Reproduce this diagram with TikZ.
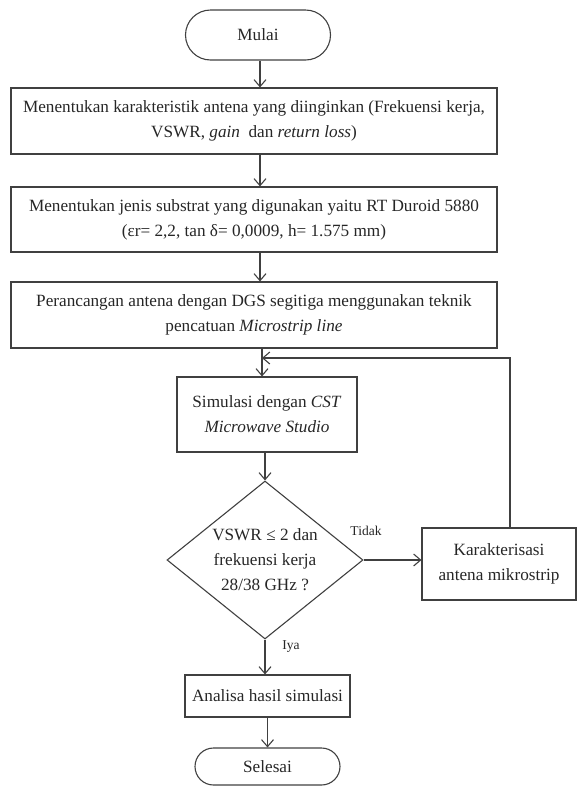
\documentclass[tikz,border=0pt]{standalone}
\usepackage{fontspec}
\setmainfont{Liberation Serif}
\usetikzlibrary{shapes.geometric,shapes.misc,arrows.meta}
\begin{document}
\begin{tikzpicture}[x=1pt,y=-1pt,
  every node/.style={font=\fontsize{17.2}{25}\selectfont, text=black!85},
  box/.style={draw=black!75, line width=1.1pt, rectangle, align=center, inner sep=0pt},
  term/.style={draw=black!75, line width=1.1pt, rounded rectangle, align=center, inner sep=0pt},
  dec/.style={draw=black!75, line width=1.1pt, diamond, align=center, inner sep=-10pt},
  flow/.style={draw=black!75, line width=1.1pt, -{Straight Barb[length=7pt,width=12pt]}},
  lbl/.style={font=\fontsize{13.5}{15}\selectfont}
]
\useasboundingbox (0,0) rectangle (578,796);
\node[term, minimum width=145pt, minimum height=50pt] (mulai) at (258,35) {Mulai};
\node[box, minimum width=486pt, minimum height=66pt] (b1) at (254,121)
  {Menentukan karakteristik antena yang diinginkan (Frekuensi kerja,\\ VSWR, \textit{gain}\ \ dan \textit{return loss})};
\node[box, minimum width=486pt, minimum height=65pt] (b2) at (254,219.5)
  {Menentukan jenis substrat yang digunakan yaitu RT Duroid 5880\\ (εr= 2,2, tan δ= 0,0009, h= 1.575 mm)};
\node[box, minimum width=486pt, minimum height=66pt] (b3) at (254,315)
  {Perancangan antena dengan DGS segitiga menggunakan teknik\\ pencatuan \textit{Microstrip line}};
\node[box, minimum width=180pt, minimum height=75pt] (b4) at (267,414.5)
  {Simulasi dengan \textit{CST}\\ \textit{Microwave Studio}};
\node[dec, minimum width=196pt, minimum height=158pt] (d) at (265,560)
  {VSWR ≤ 2 dan\\ frekuensi kerja\\ 28/38 GHz ?};
\node[box, minimum width=154pt, minimum height=72pt] (k) at (499,564)
  {Karakterisasi\\ antena mikrostrip};
\node[box, minimum width=165pt, minimum height=42pt] (a) at (267.5,696)
  {Analisa hasil simulasi};
\node[term, minimum width=145pt, minimum height=37pt] (s) at (267.5,766.5) {Selesai};
\node[lbl] (tidak) at (366,531) {Tidak};
\node[lbl] (iya) at (291,647) {Iya};

\coordinate (j) at (262,358);
\coordinate (kr) at (510,358);
\draw[flow] (mulai.south -| 260,0) -- (b1.north -| 260,0);
\draw[flow] (b1.south -| 260,0) -- (b2.north -| 260,0);
\draw[flow] (b2.south -| 260,0) -- (b3.north -| 260,0);
\draw[flow] (b3.south -| j) -- (b4.north -| j);
\draw[flow] (b4.south -| d.north) -- (d.north);
\draw[flow] (d.east) -- (k.west |- d.east);
\draw[flow] (k.north -| kr) -- (kr) -- (j);
\draw[flow] (d.south) -- (a.north -| d.south);
\draw[flow] (a.south) -- (s.north);
\end{tikzpicture}
\end{document}
